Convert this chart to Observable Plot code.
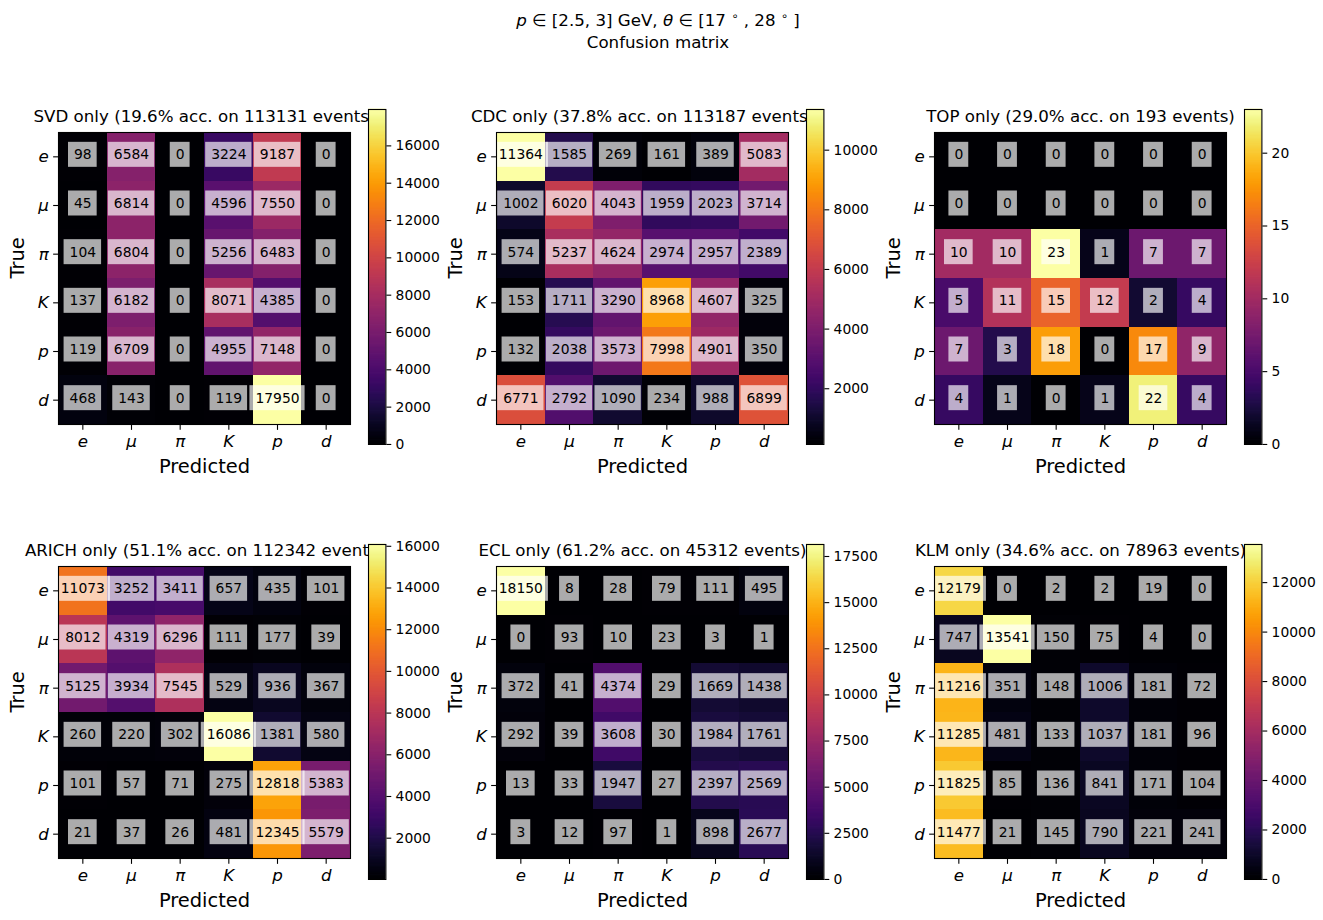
<!DOCTYPE html>
<html><head><meta charset="utf-8">
<script src="https://cdn.jsdelivr.net/npm/d3@7"></script>
<script src="https://cdn.jsdelivr.net/npm/@observablehq/plot@0.6"></script>
<style>
body{margin:0;background:white;}
#fig{position:relative;width:1323px;height:920px;font-family:"DejaVu Sans";overflow:hidden;}
#fig > *{position:absolute;}
</style></head><body><div id="fig"></div>
<script>
// ---- data ----
const classes = ["e", "μ", "π", "K", "p", "d"];
const detectors = ["SVD", "CDC", "TOP", "ARICH", "ECL", "KLM"];
const accuracies = ["19.6", "37.8", "29.0", "51.1", "61.2", "34.6"];
const eventCounts = [113131, 113187, 193, 112342, 45312, 78963];

const svdCounts = [
  [98, 6584, 0, 3224, 9187, 0],
  [45, 6814, 0, 4596, 7550, 0],
  [104, 6804, 0, 5256, 6483, 0],
  [137, 6182, 0, 8071, 4385, 0],
  [119, 6709, 0, 4955, 7148, 0],
  [468, 143, 0, 119, 17950, 0]
];
const cdcCounts = [
  [11364, 1585, 269, 161, 389, 5083],
  [1002, 6020, 4043, 1959, 2023, 3714],
  [574, 5237, 4624, 2974, 2957, 2389],
  [153, 1711, 3290, 8968, 4607, 325],
  [132, 2038, 3573, 7998, 4901, 350],
  [6771, 2792, 1090, 234, 988, 6899]
];
const topCounts = [
  [0, 0, 0, 0, 0, 0],
  [0, 0, 0, 0, 0, 0],
  [10, 10, 23, 1, 7, 7],
  [5, 11, 15, 12, 2, 4],
  [7, 3, 18, 0, 17, 9],
  [4, 1, 0, 1, 22, 4]
];
const arichCounts = [
  [11073, 3252, 3411, 657, 435, 101],
  [8012, 4319, 6296, 111, 177, 39],
  [5125, 3934, 7545, 529, 936, 367],
  [260, 220, 302, 16086, 1381, 580],
  [101, 57, 71, 275, 12818, 5383],
  [21, 37, 26, 481, 12345, 5579]
];
const eclCounts = [
  [18150, 8, 28, 79, 111, 495],
  [0, 93, 10, 23, 3, 1],
  [372, 41, 4374, 29, 1669, 1438],
  [292, 39, 3608, 30, 1984, 1761],
  [13, 33, 1947, 27, 2397, 2569],
  [3, 12, 97, 1, 898, 2677]
];
const klmCounts = [
  [12179, 0, 2, 2, 19, 0],
  [747, 13541, 150, 75, 4, 0],
  [11216, 351, 148, 1006, 181, 72],
  [11285, 481, 133, 1037, 181, 96],
  [11825, 85, 136, 841, 171, 104],
  [11477, 21, 145, 790, 221, 241]
];
const svdTicks = [0, 2000, 4000, 6000, 8000, 10000, 12000, 14000, 16000];
const cdcTicks = [2000, 4000, 6000, 8000, 10000];
const topTicks = [0, 5, 10, 15, 20];
const arichTicks = [2000, 4000, 6000, 8000, 10000, 12000, 14000, 16000];
const eclTicks = [0, 2500, 5000, 7500, 10000, 12500, 15000, 17500];
const klmTicks = [0, 2000, 4000, 6000, 8000, 10000, 12000];

const matrices = [svdCounts, cdcCounts, topCounts, arichCounts, eclCounts, klmCounts];
const cbTickSets = [svdTicks, cdcTicks, topTicks, arichTicks, eclTicks, klmTicks];

// ---- layout ----
const fig = document.getElementById("fig");
const S = 292;
const lefts = [58.3, 496.3, 934];
const tops = [131.7, 566];
const mL = 70, mT = 50, mR = 70, mB = 70;
const FONT = "DejaVu Sans";
const F10 = 13.89, F12 = 16.67, F14 = 19.44, TK = 4.86;

function heat(idx, L, T) {
  const counts = matrices[idx];
  const data = [];
  counts.forEach((row, i) => row.forEach((v, j) => data.push({row: i, col: j, v})));
  const dom = d3.extent(data, d => d.v);
  const title = `${detectors[idx]} only (${accuracies[idx]}% acc. on ${eventCounts[idx]} events)`;
  const boxMarks = [1, 2, 3, 4, 5].map(n => {
    const hw = (n * 0.636 * F10 + 11) / 2;
    return Plot.rect(data.filter(d => String(d.v).length === n), {
      x1: "col", x2: "col", y1: "row", y2: "row",
      fill: "white", fillOpacity: 0.67,
      insetLeft: -hw, insetRight: -hw, insetTop: -14.5, insetBottom: -10.5
    });
  });
  const chart = Plot.plot({
    width: mL + S + mR, height: mT + S + mB,
    marginLeft: mL, marginRight: mR, marginTop: mT, marginBottom: mB,
    style: {fontFamily: FONT, fontSize: F10 + "px", background: "transparent", overflow: "visible", color: "black"},
    x: {domain: [-0.5, 5.5], axis: null},
    y: {domain: [-0.5, 5.5], reverse: true, axis: null},
    color: {type: "linear", scheme: "inferno", domain: dom},
    marks: [
      Plot.text([title], {frameAnchor: "top", lineAnchor: "middle", dy: -15.5, fontSize: F12}),
      Plot.rect(data, {x1: d => d.col - 0.5, x2: d => d.col + 0.5, y1: d => d.row - 0.5, y2: d => d.row + 0.5, fill: "v", shapeRendering: "crispEdges"}),
      ...boxMarks,
      Plot.text(data, {x: "col", y: "row", text: d => String(d.v), fontSize: F10, fill: "black", lineAnchor: "middle", dy: -2}),
      Plot.frame({stroke: "black", strokeWidth: 1.1}),
      Plot.axisX({anchor: "bottom", ticks: [0, 1, 2, 3, 4, 5], tickFormat: i => classes[i], tickSize: TK, tickPadding: TK, strokeWidth: 1.1, fontSize: F12, fontStyle: "italic", label: null, dy: 1}),
      Plot.axisY({anchor: "left", ticks: [0, 1, 2, 3, 4, 5], tickFormat: i => classes[i], tickSize: TK, tickPadding: TK, strokeWidth: 1.1, fontSize: F12, fontStyle: "italic", label: null}),
      Plot.text(["Predicted"], {frameAnchor: "bottom", lineAnchor: "middle", dy: 42.2, fontSize: F14}),
      Plot.text(["True"], {frameAnchor: "left", lineAnchor: "middle", dx: -41, rotate: -90, fontSize: F14})
    ]
  });
  d3.select(chart).selectAll("g").filter(function() {
    const a = this.getAttribute("aria-label") || "";
    return a.includes("tick label");
  }).selectAll("text").style("font-size", F12 + "px").style("font-style", "italic");
  chart.style.left = (L - mL) + "px";
  chart.style.top = (T - mT) + "px";
  fig.appendChild(chart);
  return dom;
}

function colorbar(idx, dom, L, T) {
  const [lo, hi] = dom;
  const n = 300;
  const steps = d3.range(n).map(i => ({a: lo + (hi - lo) * i / n, b: lo + (hi - lo) * (i + 1) / n}));
  const cbW = 17.4, cbH = 335, pad = 10, right = 70;
  const chart = Plot.plot({
    width: cbW + right, height: cbH + 2 * pad,
    marginLeft: 0, marginRight: right, marginTop: pad, marginBottom: pad,
    style: {fontFamily: FONT, fontSize: F10 + "px", background: "transparent", overflow: "visible", color: "black"},
    x: {domain: [0, 1], axis: null},
    y: {domain: [lo, hi], axis: null},
    color: {type: "linear", scheme: "inferno", domain: [lo, hi]},
    marks: [
      Plot.frame({fill: "white"}),
      Plot.rect(steps, {x1: 0, x2: 1, y1: "a", y2: "b", fill: d => (d.a + d.b) / 2, insetTop: -0.4, insetBottom: -0.4}),
      Plot.frame({stroke: "black", strokeWidth: 1.1}),
      Plot.axisY({anchor: "right", ticks: cbTickSets[idx], tickFormat: d3.format("d"), tickSize: TK, tickPadding: TK, strokeWidth: 1.1, fontSize: F10, label: null})
    ]
  });
  chart.style.left = (L + 310) + "px";
  chart.style.top = (T - 22.4 - pad) + "px";
  return chart;
}

const bars = [];
for (let idx = 0; idx < 6; idx++) {
  const L = lefts[idx % 3], T = tops[Math.floor(idx / 3)];
  const dom = heat(idx, L, T);
  bars.push(colorbar(idx, dom, L, T));
}
bars.forEach(b => fig.appendChild(b));

// ---- suptitle ----
const ns = "http://www.w3.org/2000/svg";
const sup = document.createElementNS(ns, "svg");
sup.setAttribute("width", 1323); sup.setAttribute("height", 60);
sup.style.left = "0px"; sup.style.top = "0px";
sup.innerHTML = `
<text x="658" y="26" text-anchor="middle" font-family="DejaVu Sans" font-size="16.67"><tspan font-style="italic">p</tspan> ∈ [2.5, 3] GeV, <tspan font-style="italic">θ</tspan> ∈ [17 <tspan font-size="11.5" dy="-6">∘</tspan><tspan dy="6"> , 28 </tspan><tspan font-size="11.5" dy="-6">∘</tspan><tspan dy="6"> ]</tspan></text>
<text x="658" y="47.5" text-anchor="middle" font-family="DejaVu Sans" font-size="16.67">Confusion matrix</text>`;
fig.appendChild(sup);
</script></body></html>
